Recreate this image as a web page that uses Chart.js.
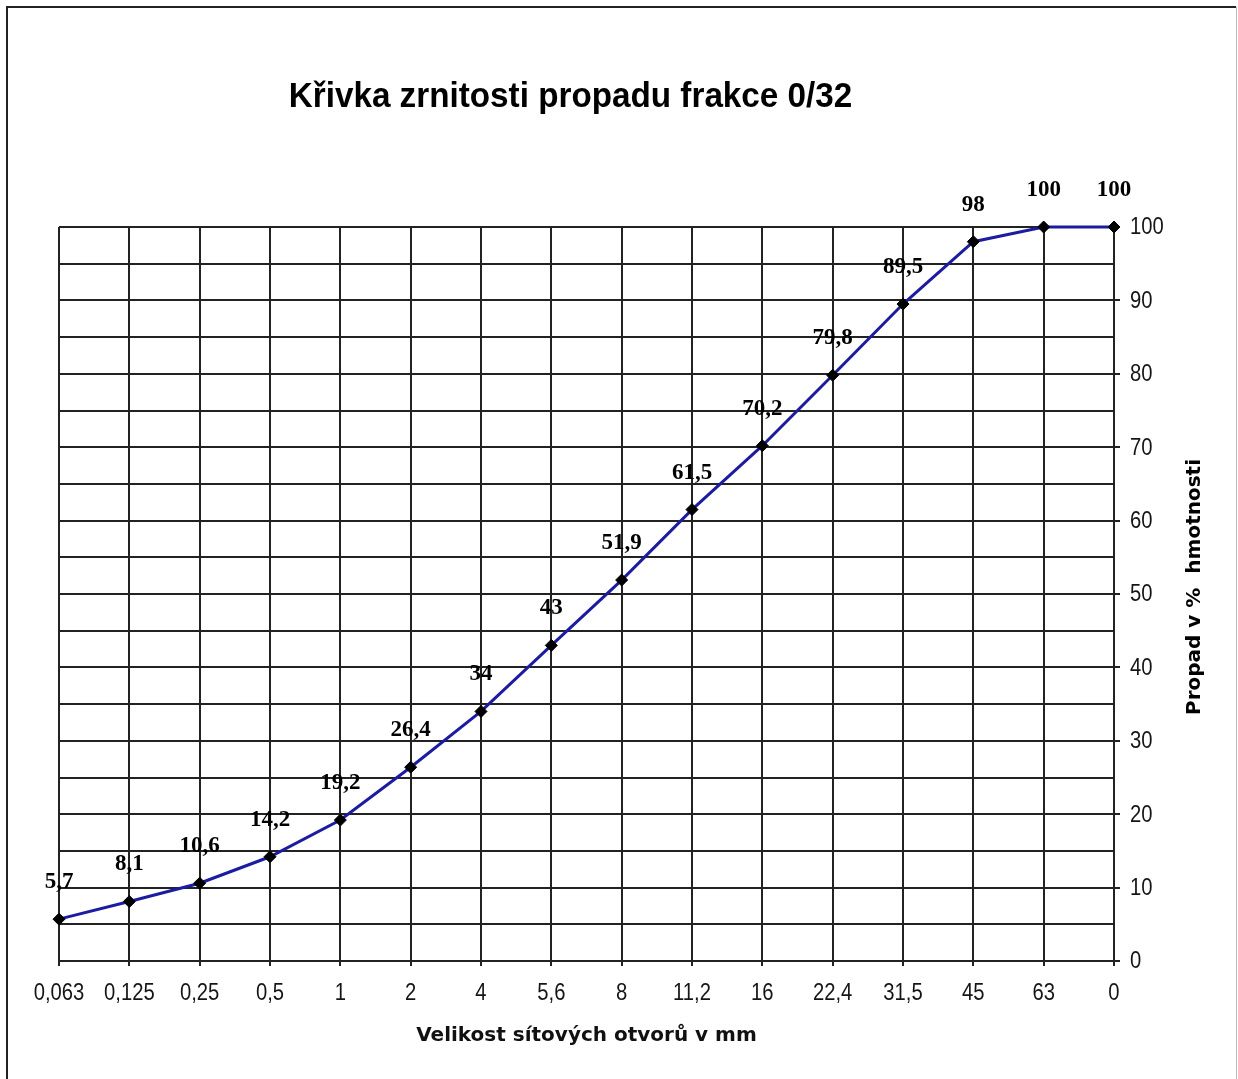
<!DOCTYPE html>
<html>
<head>
<meta charset="utf-8">
<script src="https://cdn.jsdelivr.net/npm/chart.js@4.4.1/dist/chart.umd.min.js"></script>
<style>
  html, body { margin: 0; padding: 0; background: #fff; }
  #wrap { width: 1238px; height: 1079px; position: relative; }
</style>
</head>
<body>
<div id="wrap"><canvas id="c" width="1238" height="1079"></canvas></div>
<script>
// Sieve sizes (mm) and cumulative passing (% by mass)
const sieveLabels = ['0,063', '0,125', '0,25', '0,5', '1', '2', '4', '5,6', '8', '11,2', '16', '22,4', '31,5', '45', '63', '0'];
const passing = [5.7, 8.1, 10.6, 14.2, 19.2, 26.4, 34, 43, 51.9, 61.5, 70.2, 79.8, 89.5, 98, 100, 100];
const chartTitle = 'Křivka zrnitosti propadu frakce 0/32';
const xTitle = 'Velikost sítových otvorů v mm';
const yTitle = 'Propad v %  hmotnosti';

const SANS = '"Liberation Sans", Arial, sans-serif';

// draw text squeezed horizontally (tall, narrow glyphs)
function narrowText(ctx, text, x, y, font, sx, align) {
  ctx.save();
  ctx.font = font;
  ctx.textAlign = align || 'center';
  ctx.textBaseline = 'middle';
  ctx.translate(x, y);
  ctx.scale(sx, 1);
  ctx.fillText(text, 0, 0);
  ctx.restore();
}

// Outer frame, title, tick labels, value labels and the rotated y-axis title
const decorations = {
  id: 'decorations',
  beforeDraw(chart) {
    const ctx = chart.ctx;
    ctx.save();
    ctx.fillStyle = '#fff';
    ctx.fillRect(0, 0, chart.width, chart.height);
    ctx.strokeStyle = '#222';
    ctx.lineWidth = 2;
    ctx.beginPath();
    ctx.moveTo(7, chart.height + 2);
    ctx.lineTo(7, 7);
    ctx.lineTo(chart.width - 2, 7);
    ctx.stroke();
    ctx.strokeStyle = '#bbb';
    ctx.lineWidth = 1;
    ctx.beginPath();
    ctx.moveTo(chart.width - 1.5, 7);
    ctx.lineTo(chart.width - 1.5, chart.height);
    ctx.stroke();
    ctx.restore();
  },
  afterDraw(chart) {
    const ctx = chart.ctx;
    const area = chart.chartArea;
    const xs = chart.scales.x;
    const ys = chart.scales.y;
    ctx.save();
    ctx.fillStyle = '#000';

    // chart title
    narrowText(ctx, chartTitle, (area.left + area.right) / 2 - 16, 97, 'bold 35px ' + SANS, 0.95, 'center');

    // category tick labels
    ctx.fillStyle = '#151515';
    xs.ticks.forEach((t, i) => {
      narrowText(ctx, sieveLabels[t.value], xs.getPixelForTick(i), area.bottom + 33, '23px ' + SANS, 0.88, 'center');
    });
    // value axis tick labels
    ys.ticks.forEach((t) => {
      if (t.value % 10 !== 0) return;
      narrowText(ctx, String(t.value), area.right + 16, ys.getPixelForValue(t.value) + 1, '23px ' + SANS, 0.88, 'left');
    });

    // value labels above each point
    ctx.fillStyle = '#000';
    ctx.font = 'bold 23px "Liberation Serif", "Times New Roman", serif';
    ctx.textAlign = 'center';
    ctx.textBaseline = 'middle';
    const meta = chart.getDatasetMeta(0);
    meta.data.forEach((pt, i) => {
      const txt = String(passing[i]).replace('.', ',');
      ctx.fillText(txt, pt.x, pt.y - 37);
    });

    // y-axis title, reading bottom to top
    ctx.font = 'bold 20px "DejaVu Sans", sans-serif';
    ctx.translate(1195, (area.top + area.bottom) / 2 - 7);
    ctx.rotate(-Math.PI / 2);
    ctx.fillText(yTitle, 0, 0);
    ctx.restore();
  }
};

new Chart(document.getElementById('c'), {
  type: 'line',
  data: {
    labels: sieveLabels,
    datasets: [{
      data: passing,
      borderColor: '#1c1ca0',
      borderWidth: 3,
      pointStyle: 'rectRot',
      pointRadius: 6,
      pointBackgroundColor: '#000',
      pointBorderColor: '#000',
      pointBorderWidth: 1,
      tension: 0,
      fill: false,
      clip: false
    }]
  },
  options: {
    responsive: false,
    animation: false,
    layout: { padding: { left: 59, top: 227, right: 80, bottom: 31 } },
    plugins: {
      legend: { display: false },
      tooltip: { enabled: false },
      title: { display: false }
    },
    scales: {
      x: {
        type: 'category',
        offset: false,
        border: { display: true, color: '#222', width: 2 },
        grid: {
          color: '#222',
          lineWidth: 2,
          tickLength: 5,
          tickColor: '#222',
          tickWidth: 2
        },
        ticks: { display: false, autoSkip: false },
        title: {
          display: true,
          text: xTitle,
          color: '#111',
          font: { family: '"DejaVu Sans", sans-serif', size: 20, weight: 'bold' },
          padding: { top: 0, bottom: 0 }
        },
        afterFit(scale) { scale.height = 87; }
      },
      y: {
        position: 'right',
        min: 0,
        max: 100,
        border: { display: true, color: '#222', width: 2 },
        grid: {
          color: '#222',
          lineWidth: 2,
          tickLength: 6,
          tickWidth: 2,
          tickColor: (ctx) => (ctx.tick && ctx.tick.value % 10 === 0) ? '#222' : 'rgba(0,0,0,0)'
        },
        ticks: { display: false, stepSize: 5 },
        afterFit(scale) { scale.width = 44; }
      }
    }
  },
  plugins: [decorations]
});
</script>
</body>
</html>
